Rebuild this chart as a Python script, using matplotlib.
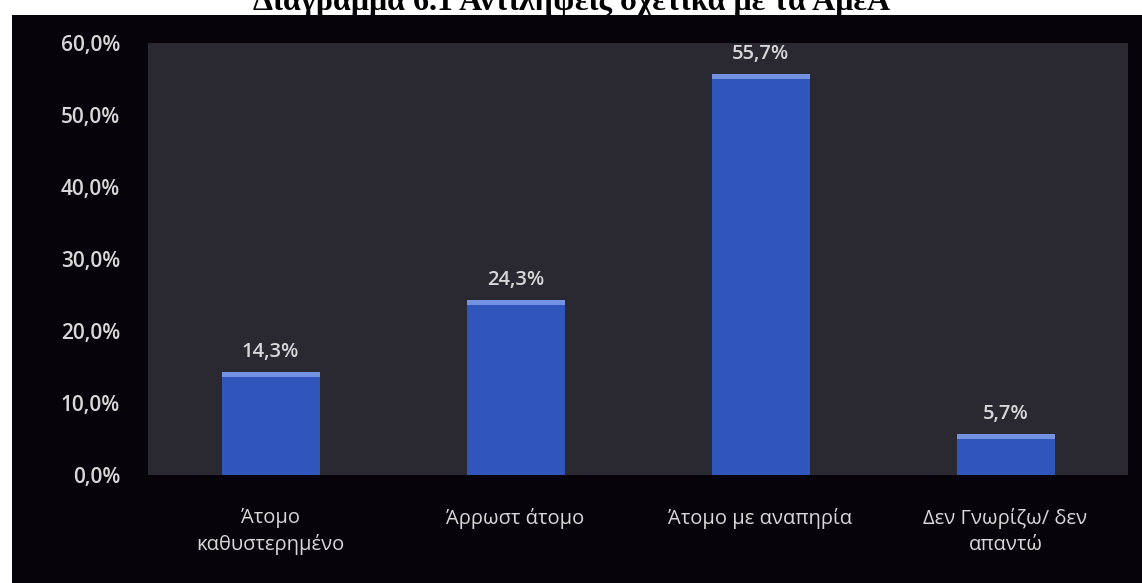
import matplotlib
matplotlib.use("Agg")
import matplotlib.pyplot as plt
from matplotlib.patches import Rectangle
import numpy as np

categories = ["Άτομο\nκαθυστερημένο", "Άρρωστ άτομο", "Άτομο με αναπηρία", "Δεν Γνωρίζω/ δεν\nαπαντώ"]
values = [14.3, 24.3, 55.7, 5.7]
yticks = [0, 10, 20, 30, 40, 50, 60]
title = "Διάγραμμα 6.1 Αντιλήψεις σχετικά με τα ΑμεΑ"

W, H = 1142, 583
fig = plt.figure(figsize=(W / 100, H / 100), dpi=100)
fig.patch.set_facecolor("white")

# dark panel behind the chart
fig.patches.append(Rectangle((12 / W, 0), 1 - 12 / W, 1 - 15 / H,
                             transform=fig.transFigure, facecolor="#06040a",
                             edgecolor="none", zorder=-5))

# page caption running off the top edge
fig.text(572 / W, 1 - 10 / H, title, ha="center", va="baseline",
         fontsize=23, fontweight="bold", family="Liberation Serif", color="black",
         zorder=-10)

ax = fig.add_axes([148 / W, (H - 475) / H, 980 / W, 432 / H])
ax.set_zorder(2)
ax.set_facecolor("#2a2830")
for s in ax.spines.values():
    s.set_visible(False)

txt_color = "#d8d8d8"
font = "Open Sans"

x = np.arange(len(categories))
bar_w = 0.4
ax.bar(x, values, width=bar_w, color="#3055bb", zorder=2)
# light rim along the top of each bar
rim = 0.7
ax.bar(x, [rim] * len(values), bottom=[v - rim for v in values], width=bar_w,
       color="#7393e2", zorder=3)

for xi, v in zip(x, values):
    ax.annotate(f"{v:.1f}%".replace(".", ","), (xi, v), xytext=(0, 7),
                textcoords="offset points", ha="center", va="bottom",
                fontsize=14.5, fontweight="semibold", family=font, color=txt_color)

ax.set_xlim(-0.5, len(categories) - 0.5)
ax.set_ylim(0, 60)
ax.set_yticks(yticks)
ax.set_yticklabels([f"{t:.1f}%".replace(".", ",") for t in yticks],
                   fontsize=15, fontweight="semibold", family=font, color=txt_color)
ax.set_xticks(x)
ax.set_xticklabels(categories, fontsize=14.5, family=font, color=txt_color,
                   linespacing=1.35)
ax.tick_params(axis="y", length=0, pad=20)
ax.tick_params(axis="x", length=0, pad=24)

fig.savefig("out.png", dpi=100, facecolor=fig.get_facecolor())
